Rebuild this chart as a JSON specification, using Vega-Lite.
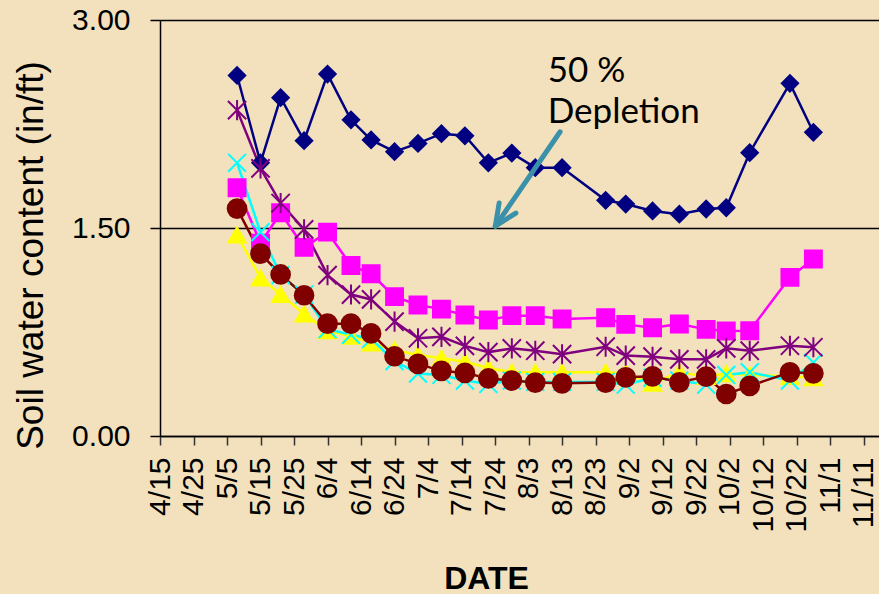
{
  "$schema": "https://vega.github.io/schema/vega-lite/v6.json",
  "width": 719,
  "height": 416,
  "autosize": {"type": "none"},
  "padding": {"left": 160, "top": 20, "right": 0, "bottom": 158},
  "background": "#F2E1BC",
  "config": {"view": {"stroke": null}, "font": "Liberation Sans"},
  "datasets": {
    "soil": [
      {"date": "2007-05-08", "Series 1": 2.60, "Series 2": 1.79, "Series 3": 1.45, "Series 4": 1.97, "Series 5": 2.35, "Series 6": 1.64},
      {"date": "2007-05-15", "Series 1": 1.97, "Series 2": 1.39, "Series 3": 1.14, "Series 4": 1.47, "Series 5": 1.93, "Series 6": 1.315},
      {"date": "2007-05-21", "Series 1": 2.44, "Series 2": 1.61, "Series 3": 1.02, "Series 4": 1.16, "Series 5": 1.68, "Series 6": 1.165},
      {"date": "2007-05-28", "Series 1": 2.13, "Series 2": 1.36, "Series 3": 0.88, "Series 4": 1.02, "Series 5": 1.49, "Series 6": 1.015},
      {"date": "2007-06-04", "Series 1": 2.61, "Series 2": 1.47, "Series 3": 0.76, "Series 4": 0.77, "Series 5": 1.16, "Series 6": 0.81},
      {"date": "2007-06-11", "Series 1": 2.28, "Series 2": 1.23, "Series 3": 0.72, "Series 4": 0.73, "Series 5": 1.02, "Series 6": 0.81},
      {"date": "2007-06-17", "Series 1": 2.135, "Series 2": 1.17, "Series 3": 0.67, "Series 4": 0.70, "Series 5": 0.985, "Series 6": 0.74},
      {"date": "2007-06-24", "Series 1": 2.05, "Series 2": 1.005, "Series 3": 0.62, "Series 4": 0.54, "Series 5": 0.825, "Series 6": 0.575},
      {"date": "2007-07-01", "Series 1": 2.11, "Series 2": 0.945, "Series 3": 0.584, "Series 4": 0.45, "Series 5": 0.705, "Series 6": 0.52},
      {"date": "2007-07-08", "Series 1": 2.18, "Series 2": 0.915, "Series 3": 0.56, "Series 4": 0.44, "Series 5": 0.715, "Series 6": 0.47},
      {"date": "2007-07-15", "Series 1": 2.165, "Series 2": 0.873, "Series 3": 0.536, "Series 4": 0.40, "Series 5": 0.65, "Series 6": 0.455},
      {"date": "2007-07-22", "Series 1": 1.97, "Series 2": 0.837, "Series 3": 0.49, "Series 4": 0.375, "Series 5": 0.605, "Series 6": 0.415},
      {"date": "2007-07-29", "Series 1": 2.04, "Series 2": 0.868, "Series 3": 0.46, "Series 4": 0.40, "Series 5": 0.632, "Series 6": 0.40},
      {"date": "2007-08-05", "Series 1": 1.935, "Series 2": 0.868, "Series 3": 0.46, "Series 4": 0.39, "Series 5": 0.615, "Series 6": 0.385},
      {"date": "2007-08-13", "Series 1": 1.935, "Series 2": 0.844, "Series 3": 0.46, "Series 4": 0.39, "Series 5": 0.59, "Series 6": 0.38},
      {"date": "2007-08-26", "Series 1": 1.70, "Series 2": 0.853, "Series 3": 0.46, "Series 4": 0.39, "Series 5": 0.644, "Series 6": 0.385},
      {"date": "2007-09-01", "Series 1": 1.673, "Series 2": 0.805, "Series 3": 0.45, "Series 4": 0.37, "Series 5": 0.58, "Series 6": 0.423},
      {"date": "2007-09-09", "Series 1": 1.623, "Series 2": 0.781, "Series 3": 0.38, "Series 4": 0.42, "Series 5": 0.572, "Series 6": 0.43},
      {"date": "2007-09-17", "Series 1": 1.60, "Series 2": 0.808, "Series 3": 0.46, "Series 4": 0.40, "Series 5": 0.553, "Series 6": 0.387},
      {"date": "2007-09-25", "Series 1": 1.637, "Series 2": 0.769, "Series 3": 0.43, "Series 4": 0.37, "Series 5": 0.553, "Series 6": 0.428},
      {"date": "2007-10-01", "Series 1": 1.646, "Series 2": 0.757, "Series 3": 0.45, "Series 4": 0.44, "Series 5": 0.632, "Series 6": 0.303},
      {"date": "2007-10-08", "Series 1": 2.043, "Series 2": 0.759, "Series 3": 0.44, "Series 4": 0.46, "Series 5": 0.615, "Series 6": 0.361},
      {"date": "2007-10-20", "Series 1": 2.543, "Series 2": 1.144, "Series 3": 0.43, "Series 4": 0.40, "Series 5": 0.651, "Series 6": 0.459},
      {"date": "2007-10-27", "Series 1": 2.19, "Series 2": 1.276, "Series 3": 0.42, "Series 4": 0.53, "Series 5": 0.64, "Series 6": 0.452}
    ],
    "arrow": [
      {"date": "2007-08-12T10:00:00Z", "value": 2.194, "date2": "2007-07-24T02:00:00Z", "value2": 1.514},
      {"date": "2007-07-24T02:00:00Z", "value": 1.514, "date2": "2007-07-30T05:00:00Z", "value2": 1.608},
      {"date": "2007-07-24T02:00:00Z", "value": 1.514, "date2": "2007-07-25T05:00:00Z", "value2": 1.680}
    ],
    "note": [
      {"date": "2007-08-08T17:00:00Z", "value": 2.551, "text": "50 %"},
      {"date": "2007-08-08T17:00:00Z", "value": 2.255, "text": "Depletion"}
    ]
  },
  "encoding": {
    "x": {
      "field": "date",
      "type": "temporal",
      "scale": {
        "type": "utc",
        "nice": false,
        "domain": [
          {"year": 2007, "month": 4, "date": 15, "utc": true},
          {"year": 2007, "month": 11, "date": 15, "hours": 14, "utc": true}
        ]
      },
      "axis": {
        "values": [
          {"year": 2007, "month": 4, "date": 15, "utc": true},
          {"year": 2007, "month": 4, "date": 25, "utc": true},
          {"year": 2007, "month": 5, "date": 5, "utc": true},
          {"year": 2007, "month": 5, "date": 15, "utc": true},
          {"year": 2007, "month": 5, "date": 25, "utc": true},
          {"year": 2007, "month": 6, "date": 4, "utc": true},
          {"year": 2007, "month": 6, "date": 14, "utc": true},
          {"year": 2007, "month": 6, "date": 24, "utc": true},
          {"year": 2007, "month": 7, "date": 4, "utc": true},
          {"year": 2007, "month": 7, "date": 14, "utc": true},
          {"year": 2007, "month": 7, "date": 24, "utc": true},
          {"year": 2007, "month": 8, "date": 3, "utc": true},
          {"year": 2007, "month": 8, "date": 13, "utc": true},
          {"year": 2007, "month": 8, "date": 23, "utc": true},
          {"year": 2007, "month": 9, "date": 2, "utc": true},
          {"year": 2007, "month": 9, "date": 12, "utc": true},
          {"year": 2007, "month": 9, "date": 22, "utc": true},
          {"year": 2007, "month": 10, "date": 2, "utc": true},
          {"year": 2007, "month": 10, "date": 12, "utc": true},
          {"year": 2007, "month": 10, "date": 22, "utc": true},
          {"year": 2007, "month": 11, "date": 1, "utc": true},
          {"year": 2007, "month": 11, "date": 11, "utc": true}
        ],
        "labelExpr": "utcFormat(datum.value, '%-m/%-d')",
        "labelAngle": 270,
        "labelFontSize": 30,
        "labelFont": "Liberation Sans",
        "labelColor": "#000",
        "labelPadding": 12,
        "labelOverlap": false,
        "labelFlush": false,
        "labelBound": false,
        "tickSize": 9,
        "tickColor": "#333",
        "tickWidth": 1.5,
        "domainColor": "#000",
        "domainWidth": 1.5,
        "grid": false,
        "title": "DATE",
        "titleFont": "Liberation Sans",
        "titleFontSize": 32,
        "titleFontWeight": "bold",
        "titleColor": "#000",
        "titleX": 326,
        "titleY": 152,
        "titleAlign": "center",
        "titleBaseline": "alphabetic"
      }
    },
    "y": {
      "field": "value",
      "type": "quantitative",
      "scale": {"domain": [0, 3], "nice": false},
      "axis": {
        "values": [0, 1.5, 3],
        "format": ".2f",
        "labelFontSize": 30,
        "labelFont": "Liberation Sans",
        "labelColor": "#000",
        "labelPadding": 20,
        "labelFlush": false,
        "labelOverlap": false,
        "labelBound": false,
        "tickSize": 10,
        "tickColor": "#000",
        "tickWidth": 1.5,
        "domainColor": "#000",
        "domainWidth": 1.5,
        "grid": true,
        "gridColor": "#000",
        "gridWidth": 1.5,
        "title": "Soil water content (in/ft)",
        "titleFont": "Liberation Sans",
        "titleFontSize": 37,
        "titleFontWeight": "normal",
        "titleColor": "#000",
        "titleAngle": 270,
        "titleX": -118,
        "titleY": 235,
        "titleAlign": "center",
        "titleBaseline": "alphabetic"
      }
    }
  },
  "layer": [
    {
      "data": {"name": "soil"},
      "transform": [
        {"fold": ["Series 1", "Series 2", "Series 3", "Series 4", "Series 5", "Series 6"], "as": ["series", "value"]}
      ],
      "mark": {"type": "line", "strokeWidth": 2.5},
      "encoding": {
        "color": {
          "field": "series",
          "type": "nominal",
          "scale": {
            "domain": ["Series 1", "Series 2", "Series 3", "Series 4", "Series 5", "Series 6"],
            "range": ["#000080", "#FF00FF", "#FFFF00", "#00FFFF", "#800080", "#800000"]
          },
          "legend": null
        }
      }
    },
    {
      "data": {"name": "soil"},
      "transform": [
        {"fold": ["Series 1", "Series 2", "Series 3", "Series 4", "Series 5", "Series 6"], "as": ["series", "value"]}
      ],
      "mark": {"type": "point", "filled": true, "opacity": 1, "strokeWidth": 2},
      "encoding": {
        "color": {
          "field": "series",
          "type": "nominal",
          "scale": {
            "domain": ["Series 1", "Series 2", "Series 3", "Series 4", "Series 5", "Series 6"],
            "range": ["#000080", "#FF00FF", "#FFFF00", "#00FFFF", "#800080", "#800000"]
          },
          "legend": null
        },
        "stroke": {
          "field": "series",
          "type": "nominal",
          "scale": {
            "domain": ["Series 1", "Series 2", "Series 3", "Series 4", "Series 5", "Series 6"],
            "range": ["#000080", "#FF00FF", "#FFFF00", "#00FFFF", "#800080", "#800000"]
          },
          "legend": null
        },
        "shape": {
          "field": "series",
          "type": "nominal",
          "scale": {
            "domain": ["Series 1", "Series 2", "Series 3", "Series 4", "Series 5", "Series 6"],
            "range": ["diamond", "square", "triangle-up", "M-1,-1L1,1M-1,1L1,-1", "M-1,-1L1,1M-1,1L1,-1M0,-1.1L0,1.1", "circle"]
          },
          "legend": null
        },
        "size": {
          "field": "series",
          "type": "nominal",
          "scale": {
            "domain": ["Series 1", "Series 2", "Series 3", "Series 4", "Series 5", "Series 6"],
            "range": [270, 350, 400, 380, 380, 330]
          },
          "legend": null
        }
      }
    },
    {
      "data": {"name": "arrow"},
      "mark": {"type": "rule", "color": "#3B91A9", "strokeWidth": 5, "strokeCap": "round"},
      "encoding": {
        "x2": {"field": "date2"},
        "y2": {"field": "value2"}
      }
    },
    {
      "data": {"name": "note"},
      "mark": {"type": "text", "align": "left", "baseline": "alphabetic", "font": "Lato", "fontSize": 35, "color": "#000"},
      "encoding": {
        "text": {"field": "text"}
      }
    }
  ]
}
